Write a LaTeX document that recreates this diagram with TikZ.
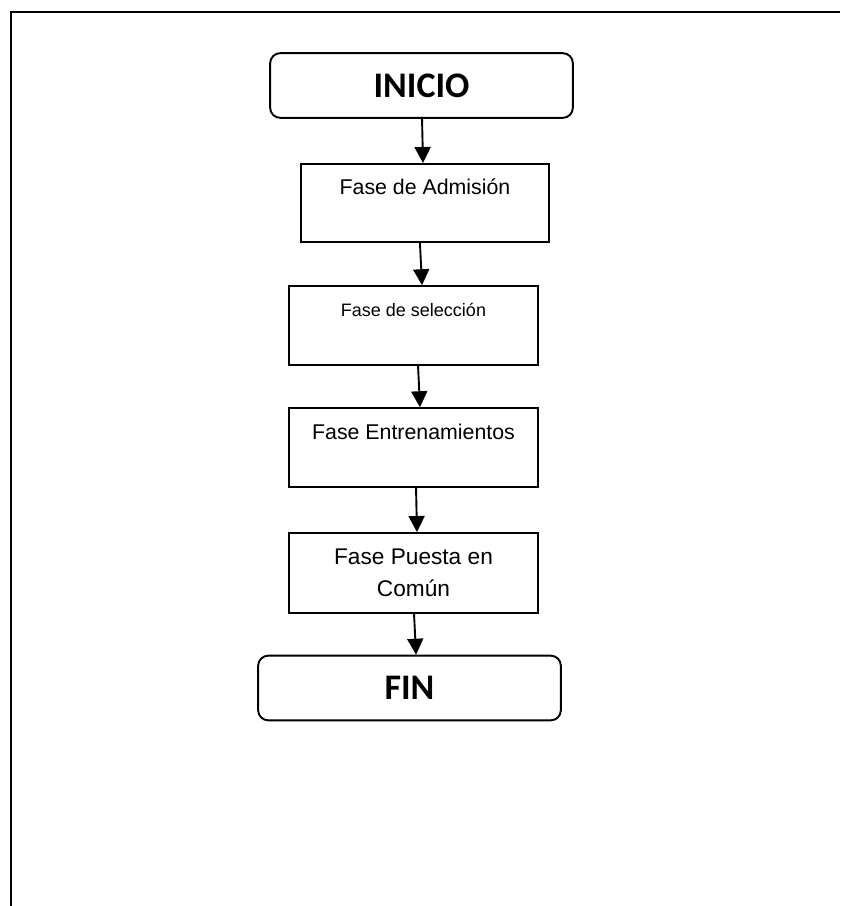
\documentclass[tikz,border=0pt]{standalone}
\usepackage{fontspec}
\setmainfont{Liberation Sans}
\newfontfamily\calibri{Carlito}
\usetikzlibrary{arrows.meta}

\begin{document}
\begin{tikzpicture}[x=0.75pt,y=-0.75pt]
	\tikzset{
	  extremo/.style={draw,rounded corners=7.5pt,line width=0.5mm,
		minimum width=227pt,minimum height=48.5pt,
		font=\calibri\bfseries\fontsize{27}{30}\selectfont},
	  fase/.style={draw,rectangle,line width=0.5mm,
		minimum width=186.5pt,minimum height=59pt,align=center,
		font=\fontsize{16}{24}\selectfont},
	  flecha/.style={line width=0.5mm,-{Triangle[length=12pt,width=12pt]}},
	}

	\useasboundingbox (0,0) rectangle (840,906);

	%MARCO
	\draw[black,line width=0.6mm] (11,906) -- (11,12) -- (840,12);

	%INICIO
	\node[extremo] (inicio) at (421.5,85.5) {INICIO};

	%FASES
	\node[fase,minimum width=186pt,minimum height=58.5pt] (admision) at (425,203) {Fase de Admisión\\\mbox{}};
	\node[fase,font=\fontsize{13.5}{24}\selectfont] (seleccion) at (413.5,325.5) {Fase de selección\\\mbox{}};
	\node[fase] (entrenamientos) at (413.5,447.5) {Fase Entrenamientos\\\mbox{}};
	\node[fase,minimum height=60pt,font=\fontsize{17}{24}\selectfont] (puesta) at (413.5,573) {Fase Puesta en\\Común};

	%FIN
	\node[extremo] (fin) at (409.5,688) {FIN};

	%FLECHAS
	\draw[flecha] ([xshift=0.4pt]inicio.south) -- ([xshift=-1.5pt]admision.north);
	\draw[flecha] ([xshift=-3.8pt]admision.south) -- ([xshift=6.4pt]seleccion.north);
	\draw[flecha] ([xshift=3.4pt]seleccion.south) -- ([xshift=4.9pt]entrenamientos.north);
	\draw[flecha] ([xshift=1.9pt]entrenamientos.south) -- ([xshift=2.6pt]puesta.north);
	\draw[flecha] ([xshift=0.4pt]puesta.south) -- ([xshift=4.9pt]fin.north);
\end{tikzpicture}
\end{document}
